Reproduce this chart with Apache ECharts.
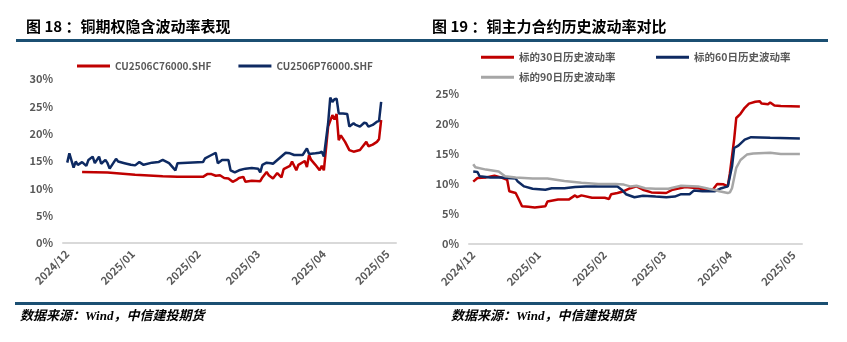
<!DOCTYPE html>
<html>
<head>
<meta charset="utf-8">
<script src="https://cdn.jsdelivr.net/npm/echarts@6/dist/echarts.min.js"></script>
<style>
html,body{margin:0;padding:0;background:#fff;}
#c{width:847px;height:342px;}
</style>
</head>
<body>
<div id="c"></div>
<script>
// ---------- Data ----------
const monthTicks = ['2024-12-01','2025-01-01','2025-02-01','2025-03-01','2025-04-01','2025-05-01'];

const leftCallName = 'CU2506C76000.SHF';
const leftCallDates = ['2024-12-08','2024-12-20','2025-01-02','2025-01-15','2025-01-22','2025-02-03','2025-02-05','2025-02-07','2025-02-09','2025-02-11','2025-02-13','2025-02-15','2025-02-17','2025-02-19','2025-02-20','2025-02-22','2025-02-23','2025-02-26','2025-03-02','2025-03-03','2025-03-05','2025-03-06','2025-03-08','2025-03-10','2025-03-12','2025-03-13','2025-03-16','2025-03-17','2025-03-19','2025-03-20','2025-03-23','2025-03-24','2025-03-25','2025-03-26','2025-03-28','2025-03-30','2025-03-31','2025-04-01','2025-04-03','2025-04-05','2025-04-06','2025-04-07','2025-04-08','2025-04-09','2025-04-11','2025-04-13','2025-04-15','2025-04-18','2025-04-19','2025-04-21','2025-04-22','2025-04-24','2025-04-26','2025-04-27','2025-04-28'];
const leftCallValues = [13.0,12.9,12.5,12.2,12.1,12.1,12.6,12.6,12.3,12.4,11.9,11.8,11.2,11.6,11.9,12.1,11.2,11.4,11.3,12.0,13.0,12.4,11.8,12.8,12.0,13.5,14.1,14.9,13.3,14.3,15.0,13.9,16.1,15.2,14.3,13.3,14.1,13.3,21.3,23.4,22.6,23.6,18.8,19.7,18.5,17.0,16.7,17.0,17.5,18.5,17.7,18.0,18.5,19.0,22.5];

const leftPutName = 'CU2506P76000.SHF';
const leftPutDates = ['2024-12-01','2024-12-02','2024-12-04','2024-12-05','2024-12-06','2024-12-08','2024-12-10','2024-12-11','2024-12-13','2024-12-14','2024-12-16','2024-12-17','2024-12-19','2024-12-20','2024-12-21','2024-12-24','2024-12-25','2024-12-28','2024-12-31','2025-01-02','2025-01-04','2025-01-06','2025-01-10','2025-01-13','2025-01-15','2025-01-18','2025-01-21','2025-01-22','2025-02-03','2025-02-04','2025-02-07','2025-02-09','2025-02-10','2025-02-12','2025-02-15','2025-02-16','2025-02-18','2025-02-20','2025-02-23','2025-02-26','2025-03-01','2025-03-02','2025-03-03','2025-03-05','2025-03-07','2025-03-08','2025-03-11','2025-03-14','2025-03-16','2025-03-18','2025-03-22','2025-03-24','2025-03-25','2025-03-28','2025-03-30','2025-03-31','2025-04-01','2025-04-03','2025-04-04','2025-04-05','2025-04-06','2025-04-07','2025-04-08','2025-04-10','2025-04-12','2025-04-13','2025-04-15','2025-04-16','2025-04-18','2025-04-20','2025-04-21','2025-04-22','2025-04-24','2025-04-26','2025-04-27','2025-04-28'];
const leftPutValues = [14.7,16.4,13.8,14.9,14.3,14.8,14.1,15.2,15.8,14.6,15.8,14.5,15.2,14.6,13.6,15.4,14.9,14.6,14.3,14.2,14.8,14.3,14.7,14.8,15.2,14.6,13.3,14.6,14.8,15.5,16.1,16.5,14.6,15.2,15.2,13.3,12.9,13.3,13.6,13.7,13.6,12.9,14.3,14.7,14.6,14.5,15.5,16.5,16.4,16.1,16.1,17.3,16.3,16.4,16.5,16.7,15.8,21.9,26.6,25.8,26.3,26.4,23.7,23.7,23.6,21.3,21.9,21.6,21.3,22.0,21.9,21.3,21.6,22.2,22.3,25.8];

const hv30Name = '标的30日历史波动率';
const hv30Dates = ['2024-12-01','2024-12-03','2024-12-07','2024-12-11','2024-12-14','2024-12-17','2024-12-18','2024-12-21','2024-12-22','2024-12-24','2024-12-27','2024-12-30','2025-01-04','2025-01-05','2025-01-10','2025-01-15','2025-01-18','2025-01-19','2025-01-21','2025-01-26','2025-02-01','2025-02-03','2025-02-04','2025-02-07','2025-02-10','2025-02-13','2025-02-16','2025-02-19','2025-02-23','2025-03-02','2025-03-05','2025-03-11','2025-03-17','2025-03-21','2025-03-24','2025-03-26','2025-03-29','2025-03-31','2025-04-01','2025-04-03','2025-04-04','2025-04-06','2025-04-08','2025-04-10','2025-04-13','2025-04-15','2025-04-16','2025-04-19','2025-04-20','2025-04-22','2025-04-25','2025-05-04'];
const hv30Values = [10.4,11.0,11.1,11.4,11.1,10.7,8.8,8.5,7.8,6.3,6.2,6.1,6.3,7.1,7.4,7.4,8.1,7.8,8.1,7.7,7.7,7.5,8.3,8.5,8.8,9.3,9.6,9.05,8.6,8.5,9.05,9.5,9.3,9.05,9.1,10.0,9.95,9.6,11.8,17.4,21.0,21.7,22.7,23.4,23.7,23.8,23.4,23.3,23.6,23.1,23.0,22.9];

const hv60Name = '标的60日历史波动率';
const hv60Dates = ['2024-12-01','2024-12-03','2024-12-04','2024-12-09','2024-12-14','2024-12-17','2024-12-21','2024-12-22','2024-12-25','2024-12-29','2025-01-04','2025-01-07','2025-01-13','2025-01-18','2025-01-23','2025-02-05','2025-02-07','2025-02-09','2025-02-11','2025-02-15','2025-02-19','2025-02-25','2025-03-02','2025-03-06','2025-03-09','2025-03-13','2025-03-15','2025-03-19','2025-03-25','2025-03-28','2025-03-31','2025-04-02','2025-04-03','2025-04-05','2025-04-08','2025-04-11','2025-04-20','2025-05-04'];
const hv60Values = [12.1,12.0,11.3,11.1,11.1,11.0,10.9,10.4,9.6,9.2,9.05,9.3,9.3,9.5,9.6,9.6,9.6,9.05,8.3,7.8,8.05,7.9,7.8,7.9,8.3,8.3,8.9,8.8,8.8,9.3,9.6,12.9,16.0,16.4,17.4,17.8,17.7,17.6];

const hv90Name = '标的90日历史波动率';
const hv90Dates = ['2024-12-01','2024-12-02','2024-12-07','2024-12-13','2024-12-16','2024-12-21','2024-12-29','2025-01-05','2025-01-13','2025-01-21','2025-01-29','2025-02-06','2025-02-10','2025-02-13','2025-02-16','2025-02-20','2025-02-25','2025-03-03','2025-03-09','2025-03-17','2025-03-22','2025-03-25','2025-03-27','2025-03-31','2025-04-01','2025-04-02','2025-04-03','2025-04-04','2025-04-06','2025-04-09','2025-04-12','2025-04-20','2025-04-25','2025-05-04'];
const hv90Values = [13.3,12.8,12.4,12.1,11.3,11.1,10.9,10.9,10.5,10.2,10.0,10.0,9.9,9.6,9.7,9.3,9.2,9.2,9.7,9.6,9.2,9.0,8.8,8.5,8.6,9.3,11.0,12.7,14.0,14.9,15.1,15.2,15.0,15.0];

const leftYTicks = {min: 0, max: 30, step: 5};
const rightYTicks = {min: 0, max: 25, step: 5};

// ---------- Helpers ----------
function parseDate(s){ const p = s.split('-').map(Number); return new Date(p[0], p[1]-1, p[2]).getTime(); }
function zip(dates, vals){ return dates.map((d,i)=>[parseDate(d), vals[i]]); }
function pad(n){ return n < 10 ? '0'+n : ''+n; }

const FONT = '"Noto Sans CJK SC", "Open Sans", sans-serif';
const RED = '#C00000', NAVY = '#0E2A62', GREY = '#A6A6A6';
const axisMin = new Date(2024, 10, 29).getTime();
const axisMax = new Date(2025, 4, 5).getTime();
const tickVals = monthTicks.map(parseDate);

function xAxisFor(gridIndex){
  return {
    type: 'value', gridIndex, min: axisMin, max: axisMax,
    axisLine: {show: true, lineStyle: {color: '#D9D9D9', width: 2}},
    axisTick: {show: false},
    splitLine: {show: false},
    axisLabel: {
      customValues: tickVals,
      rotate: 45, margin: 9,
      color: '#595959', fontSize: 11, fontWeight: 'bold', fontFamily: FONT,
      formatter: function(v){ const d = new Date(v); return d.getFullYear() + '/' + pad(d.getMonth()+1); }
    }
  };
}
function yAxisFor(gridIndex, t){
  return {
    type: 'value', gridIndex, min: t.min, max: t.max, interval: t.step,
    axisLine: {show: false}, axisTick: {show: false}, splitLine: {show: false},
    axisLabel: {margin: 10, color: '#595959', fontSize: 11, fontWeight: 'bold', fontFamily: FONT, formatter: '{value}%'}
  };
}
function lineSeries(name, data, color, idx){
  return {
    name, type: 'line', data, xAxisIndex: idx, yAxisIndex: idx,
    symbol: 'none', color, lineStyle: {color, width: 2.5}, itemStyle: {color},
    animation: false
  };
}
const legendBase = {
  icon: 'rect', itemWidth: 33, itemHeight: 3, padding: 0, itemGap: 27,
  textStyle: {color: '#595959', fontSize: 10.5, fontWeight: 'bold', fontFamily: FONT},
  selectedMode: false
};

const chart = echarts.init(document.getElementById('c'), null, {renderer: 'canvas'});
chart.setOption({
  backgroundColor: '#ffffff',
  animation: false,
  title: [
    {text: '图 18 ：铜期权隐含波动率表现', left: 26, top: 19, padding: 0, textStyle: {fontSize: 15, fontWeight: 'bold', color: '#000', fontFamily: FONT}},
    {text: '图 19 ：铜主力合约历史波动率对比', left: 432, top: 19, padding: 0, textStyle: {fontSize: 15, fontWeight: 'bold', color: '#000', fontFamily: FONT}},
    {text: '数据来源：Wind，中信建投期货', left: 20, top: 310, padding: 0, textStyle: {fontSize: 13, fontWeight: 'bold', fontStyle: 'italic', color: '#000', fontFamily: '"Liberation Serif", "Noto Sans CJK SC", serif'}},
    {text: '数据来源：Wind，中信建投期货', left: 451, top: 310, padding: 0, textStyle: {fontSize: 13, fontWeight: 'bold', fontStyle: 'italic', color: '#000', fontFamily: '"Liberation Serif", "Noto Sans CJK SC", serif'}}
  ],
  graphic: [
    {type: 'rect', shape: {x: 16, y: 39, width: 812, height: 3}, style: {fill: '#1B4F72'}, silent: true},
    {type: 'rect', shape: {x: 15, y: 302, width: 813, height: 3}, style: {fill: '#1B4F72'}, silent: true}
  ],
  legend: [
    Object.assign({}, legendBase, {data: [leftCallName, leftPutName], left: 77, top: 61, textStyle: Object.assign({}, legendBase.textStyle, {fontSize: 10})}),
    Object.assign({}, legendBase, {data: [hv30Name], left: 481, top: 52}),
    Object.assign({}, legendBase, {data: [hv60Name], left: 656, top: 52}),
    Object.assign({}, legendBase, {data: [hv90Name], left: 481, top: 72})
  ],
  grid: [
    {left: 63, top: 79, width: 333, height: 164},
    {left: 469, top: 94, width: 333, height: 150}
  ],
  xAxis: [xAxisFor(0), xAxisFor(1)],
  yAxis: [yAxisFor(0, leftYTicks), yAxisFor(1, rightYTicks)],
  series: [
    lineSeries(leftCallName, zip(leftCallDates, leftCallValues), RED, 0),
    lineSeries(leftPutName, zip(leftPutDates, leftPutValues), NAVY, 0),
    lineSeries(hv30Name, zip(hv30Dates, hv30Values), RED, 1),
    lineSeries(hv60Name, zip(hv60Dates, hv60Values), NAVY, 1),
    lineSeries(hv90Name, zip(hv90Dates, hv90Values), GREY, 1)
  ]
});
</script>
</body>
</html>
